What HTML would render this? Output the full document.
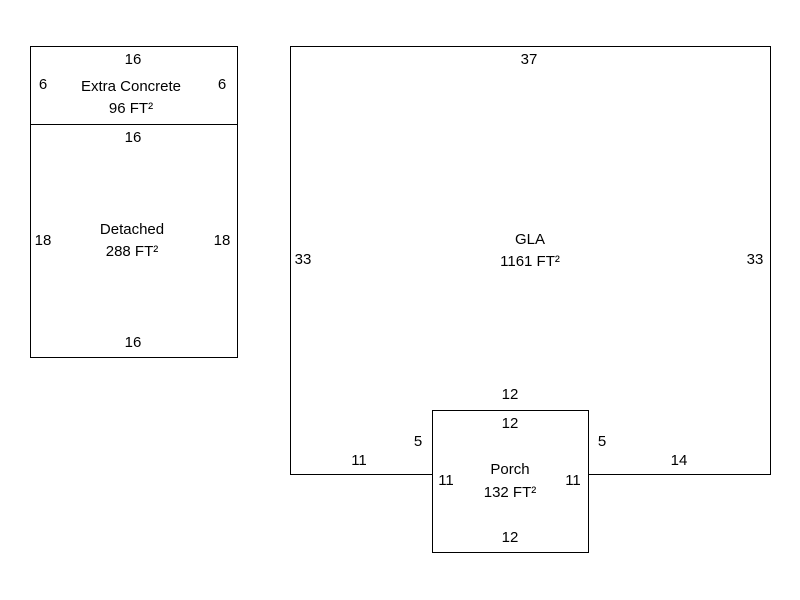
<!DOCTYPE html>
<html><head><style>
html,body{margin:0;padding:0;background:#fff;}
svg{display:block;}
text{font-family:"Liberation Sans",Arial,sans-serif;font-size:15px;fill:#000;text-anchor:middle;}
</style></head><body>
<svg width="800" height="600" viewBox="0 0 800 600">
<g fill="none" stroke="#000" stroke-width="1">
<rect x="30.5" y="46.5" width="207" height="311"/>
<line x1="30" y1="124.5" x2="238" y2="124.5"/>
<polyline points="432.5,474.5 290.5,474.5 290.5,46.5 770.5,46.5 770.5,474.5 588.5,474.5"/>
<rect x="432.5" y="410.5" width="156" height="142"/>
</g>
<text x="133" y="64">16</text>
<text x="43" y="89">6</text>
<text x="222" y="89">6</text>
<text x="131" y="91">Extra Concrete</text>
<text x="131" y="113">96 FT²</text>
<text x="133" y="142">16</text>
<text x="43" y="245">18</text>
<text x="222" y="245">18</text>
<text x="132" y="234">Detached</text>
<text x="132" y="256">288 FT²</text>
<text x="133" y="347">16</text>
<text x="529" y="64">37</text>
<text x="303" y="264">33</text>
<text x="755" y="264">33</text>
<text x="530" y="244">GLA</text>
<text x="530" y="266">1161 FT²</text>
<text x="510" y="399">12</text>
<text x="510" y="428">12</text>
<text x="418" y="446">5</text>
<text x="602" y="446">5</text>
<text x="359" y="465">11</text>
<text x="679" y="465">14</text>
<text x="446" y="485">11</text>
<text x="573" y="485">11</text>
<text x="510" y="474">Porch</text>
<text x="510" y="497">132 FT²</text>
<text x="510" y="542">12</text>
</svg>
</body></html>
